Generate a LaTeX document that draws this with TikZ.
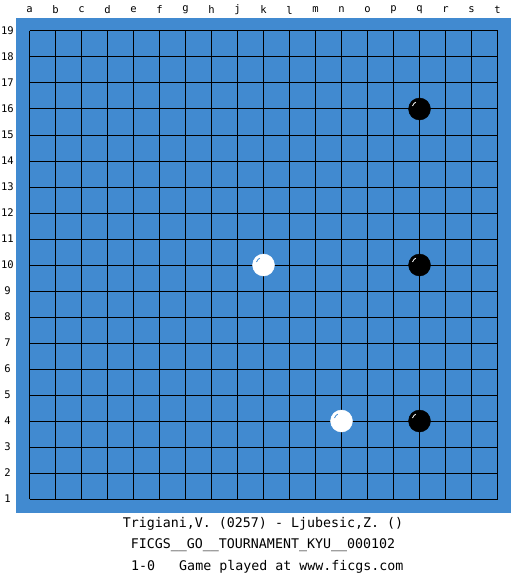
\documentclass[tikz,border=0pt]{standalone}
\usepackage{fontspec}
\setmonofont{DejaVu Sans Mono}
\usetikzlibrary{calc}
\definecolor{boardblue}{HTML}{418AD0}
\begin{document}
\begin{tikzpicture}[x=1pt,y=-1pt,
  gridline/.style={black,line width=1pt},
  coordlabel/.style={font=\ttfamily\fontsize{10.5}{11}\selectfont,inner sep=0pt},
  infotext/.style={font=\ttfamily\fontsize{13.3}{14}\selectfont,inner sep=0pt},
  blackstone/.style={circle,fill=black,draw=black,minimum size=22pt,inner sep=0pt},
  whitestone/.style={circle,fill=white,draw=white,minimum size=22pt,inner sep=0pt}]
\useasboundingbox (0,0) rectangle (525,575);
\fill[white] (0,0) rectangle (525,575);
\fill[boardblue] (16,18) rectangle (511,512.5);
\foreach \i in {0,...,18} {
  \draw[gridline] (29.5+26*\i,31) -- (29.5+26*\i,499);
  \draw[gridline] (29.5,31+26*\i) -- (497.5,31+26*\i);
}
\foreach \l [count=\i from 0] in {a,b,c,d,e,f,g,h,j,k,l,m,n,o,p,q,r,s,t} {
  \node[coordlabel] (col\l) at (29.5+26*\i,10) {\l};
}
\foreach \i in {1,...,19} {
  \pgfmathtruncatemacro{\r}{19-\i}
  \node[coordlabel] (row\i) at (7.5,31+26*\r) {\i};
}
% stones
\node[blackstone] (q16) at (419.5,109) {};
\node[blackstone] (q10) at (419.5,265) {};
\node[blackstone] (q4) at (419.5,421) {};
\node[whitestone] (k10) at (263.5,265) {};
\node[whitestone] (n4) at (341.5,421) {};
\foreach \s in {q16,q10,q4} {
  \draw[white,line width=0.8pt] ($(\s)+(-7,-3)$) arc[start angle=200,end angle=240,radius=7.5];
}
\foreach \s in {k10,n4} {
  \draw[boardblue,line width=0.8pt] ($(\s)+(-7,-3)$) arc[start angle=200,end angle=240,radius=7.5];
}
\node[infotext] (t1) at (263,523.5) {Trigiani,V. (0257) - Ljubesic,Z. ()};
\node[infotext] (t2) at (263,545.5) {FICGS\_\_GO\_\_TOURNAMENT\_KYU\_\_000102};
\node[infotext,anchor=west] (t3) at (131,566.5) {1-0\ \ \ Game played at www.ficgs.com};
\end{tikzpicture}
\end{document}
